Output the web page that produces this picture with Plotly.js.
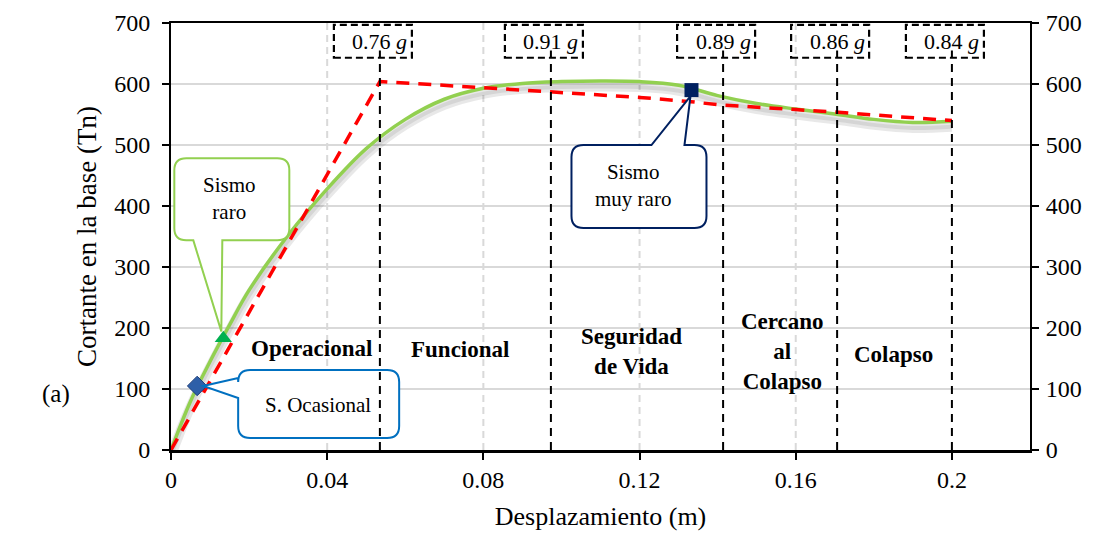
<!DOCTYPE html>
<html>
<head>
<meta charset="utf-8">
<script src="https://cdn.plot.ly/plotly-3.0.1.min.js"></script>
<style>html,body{margin:0;padding:0;background:#fff;}#chart{width:1102px;height:535px;}</style>
</head>
<body>
<div id="chart"></div>
<script>
// ---- data ----
const dispCurve = [0, 0.005, 0.01, 0.015, 0.02, 0.03, 0.04, 0.05, 0.06, 0.07, 0.08, 0.09, 0.10, 0.11, 0.12, 0.13, 0.14, 0.15, 0.16, 0.17, 0.18, 0.19, 0.20];
const shearCurve = [0, 80, 145, 205, 262, 352, 428, 494, 542, 575, 593, 601, 604, 605, 604, 598, 581, 568, 559, 551, 542, 537, 539];
const dispBilinear = [0, 0.0535, 0.08, 0.0973, 0.12, 0.1332, 0.14, 0.16, 0.17, 0.20];
const shearBilinear = [0, 604, 594, 587, 578, 571, 566, 558, 554, 540];
const limitDisp = [0.0535, 0.0973, 0.1414, 0.1706, 0.20];
const limitPGA = ['0.76', '0.91', '0.89', '0.86', '0.84'];
const zoneNames = ['Operacional', 'Funcional', 'Seguridad<br>de Vida', 'Cercano<br>al<br>Colapso', 'Colapso'];
const eventNames = ['S. Ocasional', 'Sismo<br>raro', 'Sismo<br>muy raro'];
const eventDisp = [0.0067, 0.0134, 0.1333];
const eventShear = [105, 183, 590];
const xTicks = [0, 0.04, 0.08, 0.12, 0.16, 0.2];
const xTickText = ['0', '0.04', '0.08', '0.12', '0.16', '0.2'];
const yTicks = [0, 100, 200, 300, 400, 500, 600, 700];

const FONT = 'Liberation Serif, Times New Roman, serif';

// ---- traces ----
const shadowY = shearCurve.map(v => v - 9);
const traces = [
  {x: dispCurve, y: shadowY, mode: 'lines', line: {color: 'rgba(0,0,0,0.09)', width: 10, shape: 'spline', smoothing: 1}, hoverinfo: 'skip', showlegend: false},
  {x: dispCurve, y: shadowY, mode: 'lines', line: {color: 'rgba(0,0,0,0.08)', width: 4, shape: 'spline', smoothing: 1}, hoverinfo: 'skip', showlegend: false},
  {x: dispCurve, y: shearCurve, mode: 'lines', line: {color: '#92D050', width: 3.5, shape: 'spline', smoothing: 1}, showlegend: false},
  {x: dispBilinear, y: shearBilinear, mode: 'lines', line: {color: '#FF0000', width: 3.5, dash: '13px,9px'}, showlegend: false},
  {x: [eventDisp[0]], y: [eventShear[0]], mode: 'markers', marker: {symbol: 'diamond', size: 15, color: '#2E5FA8', line: {color: '#1F3F7A', width: 1}}, showlegend: false},
  {x: [eventDisp[1]], y: [eventShear[1]], mode: 'markers', marker: {symbol: 'triangle-up', size: 15, color: '#00B050'}, showlegend: false},
  {x: [eventDisp[2]], y: [eventShear[2]], mode: 'markers', marker: {symbol: 'square', size: 14, color: '#002060'}, showlegend: false},
  {x: [0], y: [0], yaxis: 'y2', mode: 'markers', marker: {opacity: 0}, hoverinfo: 'skip', showlegend: false}
];

// ---- speech bubble path in pixel offsets (y upward) ----
function bubble(l, r, t, b, rad, edge, p1, p2, tip) {
  let s = `M${l + rad},${t} `;
  if (edge === 'top') s += `L${p1},${t} L${tip[0]},${tip[1]} L${p2},${t} `;
  s += `L${r - rad},${t} Q${r},${t} ${r},${t - rad} L${r},${b + rad} Q${r},${b} ${r - rad},${b} `;
  if (edge === 'bottom') s += `L${p2},${b} L${tip[0]},${tip[1]} L${p1},${b} `;
  s += `L${l + rad},${b} Q${l},${b} ${l},${b + rad} `;
  if (edge === 'left') s += `L${l},${p1} L${tip[0]},${tip[1]} L${l},${p2} `;
  s += `L${l},${t - rad} Q${l},${t} ${l + rad},${t} Z`;
  return s;
}

const shapes = [];
const annotations = [];

// vertical grid lines (dashed light gray)
[0.04, 0.08, 0.12, 0.16].forEach(v => shapes.push({type: 'line', xref: 'x', yref: 'y', x0: v, x1: v, y0: 0, y1: 700, line: {color: '#D9D9D9', width: 2, dash: '7px,5px'}, layer: 'below'}));

// bubbles
const bubbleColors = ['#0070C0', '#92D050', '#002060'];
const bubblePaths = [
  bubble(41, 202, 16, -52, 12, 'left', -12, 8, [6, 0]),
  bubble(-49, 66, 180, 98, 12, 'bottom', -30, -1, [-2, 7]),
  bubble(-120, 15, -55, -138, 12, 'top', -40, -7, [-1, -6])
];
bubblePaths.forEach((p, i) => shapes.push({
  type: 'path', xref: 'x', yref: 'y', xsizemode: 'pixel', ysizemode: 'pixel',
  xanchor: eventDisp[i], yanchor: eventShear[i], path: p,
  line: {color: bubbleColors[i], width: 2}, fillcolor: 'white', layer: 'above'
}));

// limit lines + top boxes
limitDisp.forEach((v, i) => {
  shapes.push({type: 'line', xref: 'x', yref: 'y', x0: v, x1: v, y0: 0, y1: 655, line: {color: '#000', width: 2, dash: '8px,6px'}, layer: 'above'});
  shapes.push({type: 'rect', xref: 'x', yref: 'y', xsizemode: 'pixel', xanchor: v, x0: -46, x1: 32, y0: 643, y1: 697, line: {color: '#000', width: 2.2, dash: '7px,4px'}, fillcolor: 'rgba(0,0,0,0)', layer: 'above'});
  annotations.push({x: v, y: 670, xref: 'x', yref: 'y', xshift: 0, text: limitPGA[i] + ' <i>g</i>', showarrow: false, font: {family: FONT, size: 22, color: '#000'}});
});

// zone labels
const zonePos = [[0.0359, 167], [0.074, 164], [0.118, 161], [0.1565, 161], [0.185, 157]];
zoneNames.forEach((n, i) => annotations.push({x: zonePos[i][0], y: zonePos[i][1], xref: 'x', yref: 'y', text: '<b>' + n + '</b>', showarrow: false, font: {family: FONT, size: 23, color: '#000'}}));

// bubble texts
const bubbleText = [[0.0377, 73], [0.0151, 413], [0.1183, 433]];
eventNames.forEach((n, i) => annotations.push({x: bubbleText[i][0], y: bubbleText[i][1], xref: 'x', yref: 'y', text: n, showarrow: false, font: {family: FONT, size: 21, color: '#000'}}));

// (a)
annotations.push({x: -0.152, y: 0.094, xref: 'paper', yref: 'paper', text: '(a)', showarrow: false, font: {family: FONT, size: 25, color: '#000'}});

const axisCommon = {
  showline: true, linecolor: '#000', linewidth: 2, ticks: 'outside', ticklen: 7, tickwidth: 2, tickcolor: '#000',
  tickfont: {family: FONT, size: 24, color: '#000'}, zeroline: false
};

const layout = {
  width: 1102, height: 535,
  margin: {l: 171, r: 72, t: 23, b: 85},
  paper_bgcolor: '#fff', plot_bgcolor: '#fff',
  font: {family: FONT, color: '#000'},
  showlegend: false,
  xaxis: Object.assign({}, axisCommon, {
    range: [0, 0.22], tickvals: xTicks, ticktext: xTickText, showgrid: false, mirror: true, linewidth: 2.5,
    title: {text: 'Desplazamiento (m)', font: {family: FONT, size: 26, color: '#000'}, standoff: 15}
  }),
  yaxis: Object.assign({}, axisCommon, {
    range: [0, 700], tickvals: yTicks, showgrid: true, gridcolor: '#D9D9D9', gridwidth: 2, ticklabelstandoff: 7,
    title: {text: 'Cortante en la base (Tn)', font: {family: FONT, size: 27, color: '#000'}, standoff: 10}
  }),
  yaxis2: Object.assign({}, axisCommon, {
    range: [0, 700], tickvals: yTicks, overlaying: 'y', side: 'right', showgrid: false, ticklabelstandoff: 2
  }),
  shapes: shapes,
  annotations: annotations
};

Plotly.newPlot('chart', traces, layout, {staticPlot: true, displayModeBar: false});
</script>
</body>
</html>
